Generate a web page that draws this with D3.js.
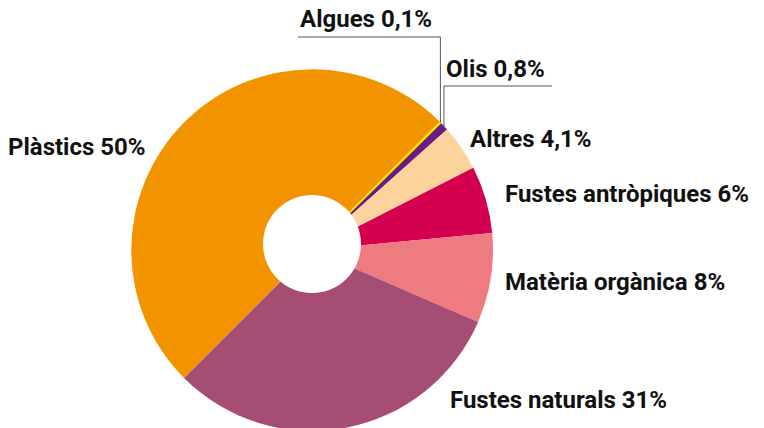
<!DOCTYPE html>
<html>
<head>
<meta charset="utf-8">
<script src="https://cdn.jsdelivr.net/npm/d3@7"></script>
<style>
  body { margin: 0; background: #fff; }
  text { font-family: Roboto, "Open Sans", sans-serif; font-weight: 700; fill: #111; }
</style>
</head>
<body>
<div id="chart"></div>
<script>
// categories, in clockwise order from the top-right
const categories = ["Algues", "Olis", "Altres", "Fustes antròpiques", "Matèria orgànica", "Fustes naturals", "Plàstics"]
const values = [0.1, 0.8, 4.1, 6, 8, 31, 50]
const valueLabels = ["0,1%", "0,8%", "4,1%", "6%", "8%", "31%", "50%"]
const colors = ["#ffe500", "#6a1d80", "#fcd29d", "#d4004f", "#ee7b80", "#a64d74", "#f29400"]

const width = 764
const height = 428
const cx = 312, cy = 250
const outerR = 181
const holeR = 49

// where each label goes (left x, baseline y)
const labelPos = {
  "Algues": [300, 27],
  "Olis": [446, 77],
  "Altres": [470, 147],
  "Fustes antròpiques": [505, 202],
  "Matèria orgànica": [505, 290],
  "Fustes naturals": [450, 408],
  "Plàstics": [8, 155]
}

const data = categories.map((c, i) => ({name: c, value: values[i], label: valueLabels[i], color: colors[i]}))

const svg = d3.select('#chart').append('svg')
  .attr('width', width)
  .attr('height', height)

const pie = d3.pie()
  .value(d => d.value)
  .sort(null)
  .startAngle(45 * Math.PI / 180)
  .endAngle(405 * Math.PI / 180)

const arc = d3.arc().innerRadius(0).outerRadius(outerR)
const arcs = pie(data)

const g = svg.append('g').attr('transform', 'translate(' + cx + ',' + cy + ')')
g.selectAll('path')
  .data(arcs)
  .enter().append('path')
  .attr('d', arc)
  .attr('fill', d => d.data.color)

// the algues slice is too thin to see, so give it a stroke and put it on top
g.selectAll('path').filter(d => d.data.name === 'Algues')
  .attr('stroke', d => d.data.color)
  .attr('stroke-width', 1.4)
  .raise()

// white hole (sits a bit above the pie centre in the original)
svg.append('circle')
  .attr('cx', cx)
  .attr('cy', cy - 6)
  .attr('r', holeR)
  .attr('fill', '#fff')

// leader lines for the two thin slices
const leaders = {"Algues": [298, 37], "Olis": [552, 86]}
arcs.filter(d => leaders[d.data.name]).forEach(d => {
  const a = (d.startAngle + d.endAngle) / 2
  const px = cx + outerR * Math.sin(a)
  const py = cy - outerR * Math.cos(a)
  const [endX, lineY] = leaders[d.data.name]
  svg.append('path')
    .attr('d', 'M' + px + ',' + py + 'L' + px + ',' + lineY + 'L' + endX + ',' + lineY)
    .attr('fill', 'none')
    .attr('stroke', '#555')
    .attr('stroke-width', 1)
})

svg.selectAll('text.lbl')
  .data(data)
  .enter().append('text')
  .attr('class', 'lbl')
  .attr('x', d => labelPos[d.name][0])
  .attr('y', d => labelPos[d.name][1])
  .style('font-size', '24px')
  .text(d => d.name + ' ' + d.label)
</script>
</body>
</html>
